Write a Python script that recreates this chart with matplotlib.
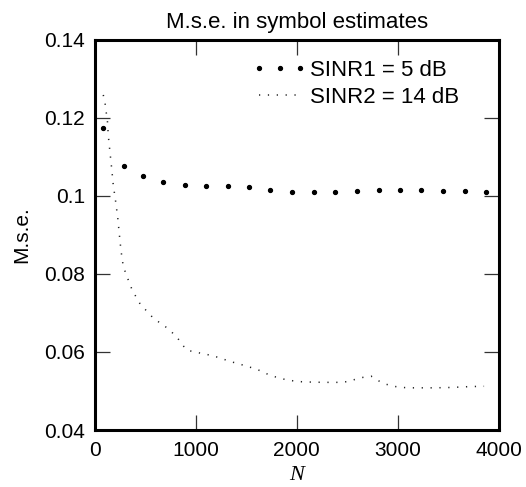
import matplotlib
matplotlib.use("Agg")
import matplotlib.pyplot as plt
from matplotlib.legend_handler import HandlerLine2D

plt.rcParams['font.family'] = ['Liberation Sans', 'DejaVu Sans']

# SINR1 = 5 dB (marker-only series)
n1 = [85, 290, 475, 680, 890, 1100, 1315, 1530, 1740, 1955, 2170, 2380,
      2595, 2810, 3020, 3235, 3450, 3665, 3875]
mse1 = [0.1174, 0.1077, 0.1050, 0.1035, 0.1027, 0.1024, 0.1024, 0.1021,
        0.1014, 0.1009, 0.1009, 0.1009, 0.1013, 0.1014, 0.1014, 0.1014,
        0.1012, 0.1012, 0.1010]

# SINR2 = 14 dB (dotted line)
n2 = [85, 102, 112, 125, 135, 151, 168, 184, 208, 228, 244, 260, 284, 317,
      343, 376, 416, 458, 515, 571, 637, 703, 769, 822, 868, 917, 993, 1075,
      1158, 1234, 1313, 1389, 1472, 1548, 1627, 1703, 1775, 1858, 1934, 2016,
      2099, 2264, 2429, 2505, 2584, 2660, 2736, 2802, 2874, 2957, 3040, 3122,
      3370, 3535, 3700, 3855]
mse2 = [0.1258, 0.1238, 0.1217, 0.1195, 0.1153, 0.1112, 0.1070, 0.1027,
        0.0984, 0.0944, 0.0901, 0.0860, 0.0817, 0.0796, 0.0776, 0.0756,
        0.0738, 0.0719, 0.0705, 0.0689, 0.0676, 0.0664, 0.0649, 0.0635,
        0.0618, 0.0604, 0.0600, 0.0595, 0.0591, 0.0585, 0.0578, 0.0572,
        0.0566, 0.0560, 0.0553, 0.0544, 0.0537, 0.0531, 0.0527, 0.0524,
        0.0523, 0.0522, 0.0522, 0.0524, 0.0530, 0.0535, 0.0538, 0.0527,
        0.0518, 0.0512, 0.0509, 0.0508, 0.0508, 0.0509, 0.0511, 0.0512]

labels = ['SINR1 = 5 dB', 'SINR2 = 14 dB']
xticks = [0, 1000, 2000, 3000, 4000]
yticks = [0.04, 0.06, 0.08, 0.1, 0.12, 0.14]
yticklabels = ['0.04', '0.06', '0.08', '0.1', '0.12', '0.14']

fig = plt.figure(figsize=(5.26, 4.87), dpi=100)
ax = fig.add_axes([94.7 / 526, 1 - 430 / 487, (498.7 - 94.7) / 526, (430 - 39.5) / 487])

l1, = ax.plot(n1, mse1, linestyle='none', marker='o', markersize=2.8,
              color='black', label=labels[0])
l2, = ax.plot(n2, mse2, linestyle=(0, (0.8, 5.0)), linewidth=1.1,
              color='#222222', label=labels[1])

ax.set_xlim(0, 4000)
ax.set_ylim(0.04, 0.14)
ax.set_xticks(xticks)
ax.set_yticks(yticks)
ax.set_yticklabels(yticklabels)

ax.tick_params(direction='in', length=10.5, width=0.9, top=True, right=True,
               labelsize=15, color='#333333')
ax.tick_params(axis='x', pad=8)
ax.tick_params(axis='y', pad=7)
for s in ax.spines.values():
    s.set_linewidth(2.2)

ax.set_title('M.s.e. in symbol estimates', fontsize=16, pad=8)
ax.set_xlabel('N', fontsize=16, fontstyle='italic',
              family=['Liberation Serif', 'DejaVu Serif'], labelpad=4)
ax.set_ylabel('M.s.e.', fontsize=15, labelpad=9)

leg = ax.legend(handles=[l1, l2], loc='upper right', bbox_to_anchor=(0.925, 0.97),
                frameon=False, fontsize=16, handlelength=1.85,
                handletextpad=0.45, labelspacing=0.25, borderaxespad=0,
                handler_map={l1: HandlerLine2D(marker_pad=0, numpoints=3)})

fig.savefig('out.png', dpi=100)
